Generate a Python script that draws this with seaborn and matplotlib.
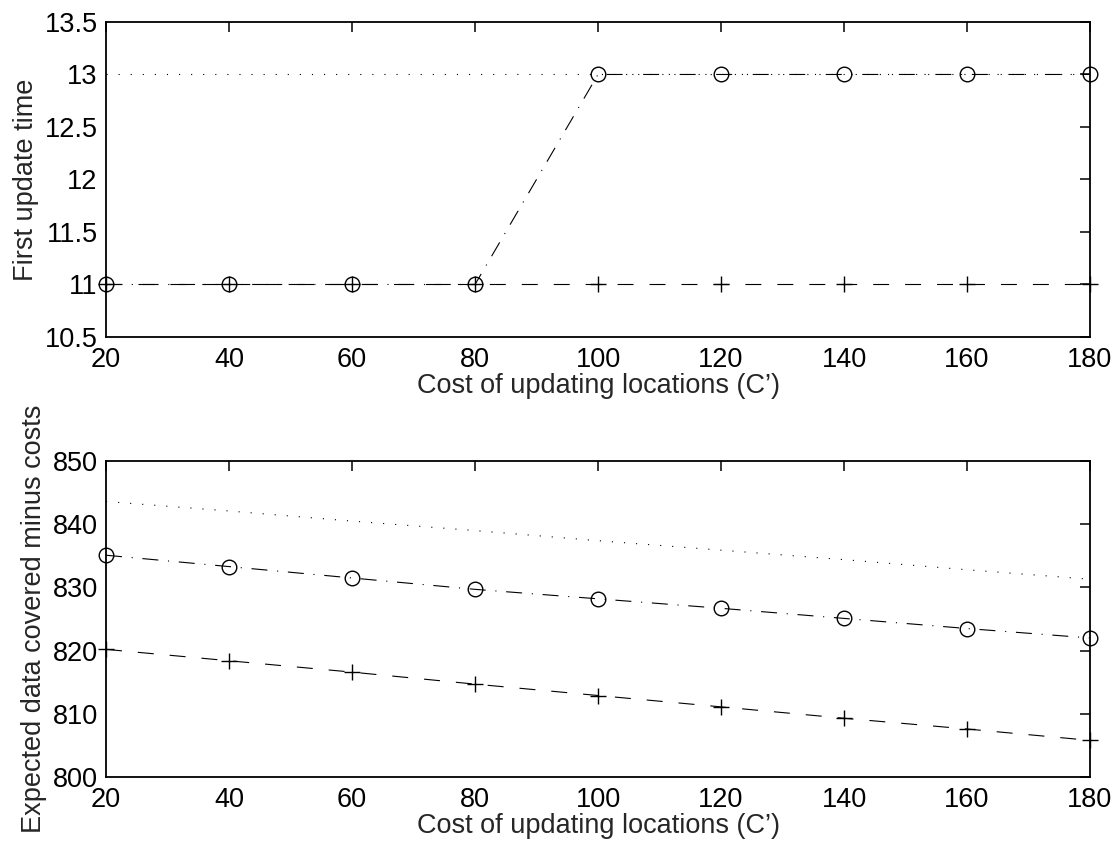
import matplotlib
matplotlib.use("Agg")
import matplotlib.pyplot as plt
import seaborn as sns
import pandas as pd

# ---- data ----
cost = [20, 40, 60, 80, 100, 120, 140, 160, 180]

top_dotted = [13, 13, 13, 13, 13, 13, 13, 13, 13]
top_circle = [11, 11, 11, 11, 13, 13, 13, 13, 13]
top_plus = [11, 11, 11, 11, 11, 11, 11, 11, 11]

bot_dotted = [843.6, 842.1, 840.5, 839.0, 837.4, 835.9, 834.4, 832.8, 831.3]
bot_circle = [835.1, 833.3, 831.5, 829.7, 828.2, 826.7, 825.1, 823.5, 822.0]
bot_plus = [820.2, 818.4, 816.6, 814.7, 812.9, 811.1, 809.3, 807.6, 805.8]

x_ticks = [20, 40, 60, 80, 100, 120, 140, 160, 180]
top_yticks = [10.5, 11, 11.5, 12, 12.5, 13, 13.5]
top_yticklabels = ["10.5", "11", "11.5", "12", "12.5", "13", "13.5"]
bot_yticks = [800, 810, 820, 830, 840, 850]
bot_yticklabels = ["800", "810", "820", "830", "840", "850"]

xlabel = "Cost of updating locations (C\u2019)"
top_ylabel = "First update time"
bot_ylabel = "Expected data covered minus costs"

# ---- style ----
sns.set_style("white")
plt.rcParams["font.family"] = ["Liberation Sans", "DejaVu Sans"]
plt.rcParams["lines.scale_dashes"] = False
FS = 19.5

fig = plt.figure(figsize=(11.16, 8.48), dpi=100)
ax_top = fig.add_axes([0.095, 0.6026, 0.8817, 0.3715])
ax_bot = fig.add_axes([0.095, 0.0837, 0.8817, 0.3726])

LW = 0.8
DOTTED = (0, (0.8, 7.9))
DASHDOT = (0, (11.5, 7.0, 0.8, 7.0))
DASHED = (0, (11.5, 11.5))


def draw(ax, dotted, circle, plus):
    df = pd.DataFrame({"x": cost, "dot": dotted, "cir": circle, "plu": plus})
    sns.lineplot(data=df, x="x", y="dot", ax=ax, color="k", lw=LW,
                 linestyle=DOTTED, clip_on=False)
    sns.lineplot(data=df, x="x", y="cir", ax=ax, color="k", lw=LW,
                 linestyle=DASHDOT, marker="o", markersize=10.5,
                 markerfacecolor="none", markeredgecolor="k",
                 markeredgewidth=1.0, clip_on=False)
    sns.lineplot(data=df, x="x", y="plu", ax=ax, color="k", lw=LW,
                 linestyle=DASHED, marker="+", markersize=11,
                 markeredgecolor="k", markeredgewidth=1.0, clip_on=False)


draw(ax_top, top_dotted, top_circle, top_plus)
draw(ax_bot, bot_dotted, bot_circle, bot_plus)

for ax, yt, ytl, ylab, ylim in [
    (ax_top, top_yticks, top_yticklabels, top_ylabel, (10.5, 13.5)),
    (ax_bot, bot_yticks, bot_yticklabels, bot_ylabel, (800, 850)),
]:
    ax.set_xlim(20, 180)
    ax.set_ylim(*ylim)
    ax.set_xticks(x_ticks)
    ax.set_xticklabels([str(v) for v in x_ticks])
    ax.set_yticks(yt)
    ax.set_yticklabels(ytl)
    ax.tick_params(direction="in", length=7, width=1.1, top=True, right=True,
                   labelsize=FS, colors="k")
    ax.tick_params(axis="x", pad=7)
    ax.tick_params(axis="y", pad=6)
    for s in ax.spines.values():
        s.set_linewidth(1.3)
        s.set_color("k")
        s.set_visible(True)
    ax.set_xlabel(xlabel, fontsize=FS, labelpad=0)
    ax.set_ylabel(ylab, fontsize=FS, labelpad=4)
    ax.grid(False)
    ax.set_facecolor("white")

fig.savefig("out.png", dpi=100, facecolor="white")
